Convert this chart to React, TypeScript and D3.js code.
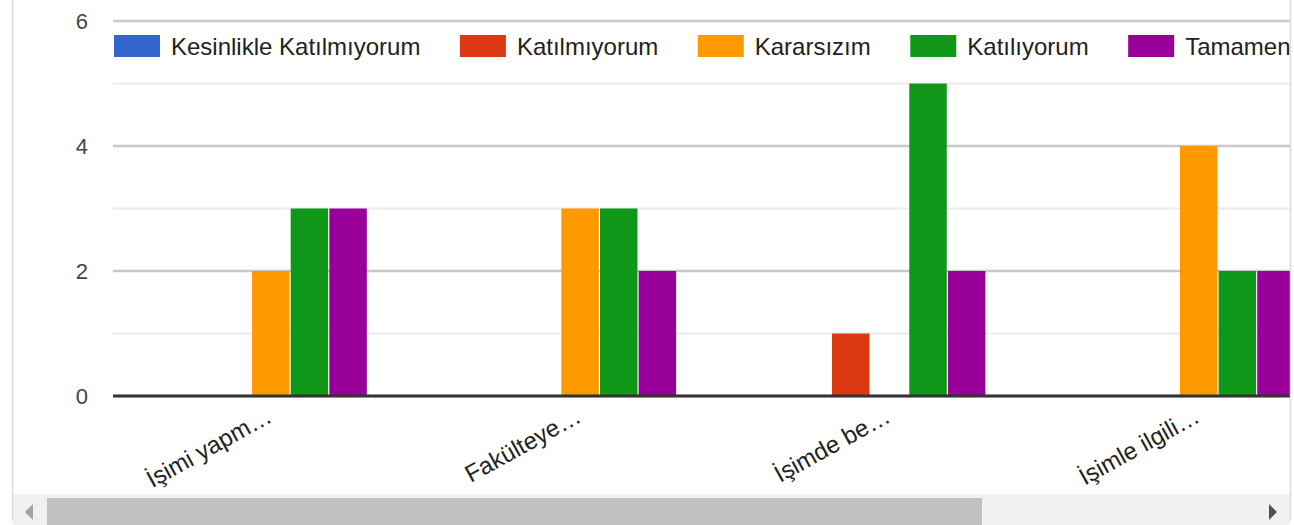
import React from 'react'
import * as d3 from 'd3'

// kategoriler (kesilmiş etiketler) ve seriler
const categories = ['İşimi yapm…', 'Fakülteye…', 'İşimde be…', 'İşimle ilgili…']
const seriesNames = [
  'Kesinlikle Katılmıyorum',
  'Katılmıyorum',
  'Kararsızım',
  'Katılıyorum',
  'Tamamen Katılıyorum'
]
const seriesColors = ['#3366cc', '#dc3912', '#ff9900', '#109618', '#990099']
const kesinlikleKatilmiyorum = [0, 0, 0, 0]
const katilmiyorum = [0, 0, 1, 0]
const kararsizim = [2, 3, 0, 4]
const katiliyorum = [3, 3, 5, 2]
const tamamenKatiliyorum = [3, 2, 2, 2]
const seriesValues = [
  kesinlikleKatilmiyorum,
  katilmiyorum,
  kararsizim,
  katiliyorum,
  tamamenKatiliyorum
]
const yTicks = [0, 2, 4, 6]
const yMinor = [1, 3, 5]

const W = 1294
const H = 525
const FONT = "Arial, 'Liberation Sans', sans-serif"

function measure(text: string, size: number) {
  const c = document.createElement('canvas')
  const ctx = c.getContext('2d')!
  ctx.font = `${size}px ${FONT}`
  return ctx.measureText(text).width
}

export default function App() {
  const left = 113
  const right = 1290
  const step = 309.3
  const x0 = d3
    .scaleBand()
    .domain(categories)
    .range([115.8, 115.8 + step * categories.length])
    .padding(0)
  const x1 = d3
    .scaleBand()
    .domain(seriesNames)
    .range([59, 59 + 192])
    .paddingInner(0.03)
  const y = d3.scaleLinear().domain([0, 6]).range([396, 21])

  // lejant
  let lx = 114
  const legend = seriesNames.map((name, i) => {
    const item = { name, color: seriesColors[i], x: lx }
    lx += 46 + 11 + measure(name, 24) + 39.5
    return item
  })

  return (
    <svg
      width={W}
      height={H}
      style={{ position: 'absolute', left: 0, top: 0, background: '#fff' }}
      fontFamily={FONT}
    >
      <defs>
        <clipPath id="view">
          <rect x={13} y={0} width={right - 13} height={494} />
        </clipPath>
      </defs>
      <g clipPath="url(#view)">
        {yMinor.map((t) => (
          <line key={'m' + t} x1={left} x2={right} y1={y(t)} y2={y(t)} stroke="#ebebeb" strokeWidth={2} />
        ))}
        {yTicks.map((t) => (
          <line key={'g' + t} x1={left} x2={right} y1={y(t)} y2={y(t)} stroke="#c8c8c8" strokeWidth={2.5} />
        ))}
        {yTicks.map((t) => (
          <text key={'t' + t} x={88} y={y(t)} dy="0.38em" textAnchor="end" fontSize={22} fill="#444">
            {t}
          </text>
        ))}
        {categories.map((c, ci) => (
          <g key={c} transform={`translate(${x0(c)},0)`}>
            {seriesNames.map((s, si) => {
              const v = seriesValues[si][ci]
              if (!v) return null
              return (
                <rect
                  key={s}
                  x={x1(s)}
                  y={y(v)}
                  width={x1.bandwidth()}
                  height={y(0) - y(v)}
                  fill={seriesColors[si]}
                />
              )
            })}
          </g>
        ))}
        <line x1={left} x2={right} y1={y(0)} y2={y(0)} stroke="#333" strokeWidth={3} />
        {categories.map((c) => (
          <text
            key={'l' + c}
            transform={`translate(${x0(c)! + x0.bandwidth() / 2 + 3},421) rotate(-29)`}
            textAnchor="end"
            fontSize={24}
            fill="#222"
          >
            {c}
          </text>
        ))}
        {legend.map((l) => (
          <g key={l.name}>
            <rect x={l.x} y={35} width={46} height={22} fill={l.color} />
            <text x={l.x + 57} y={55} fontSize={24} fill="#222">
              {l.name}
            </text>
          </g>
        ))}
      </g>
      {/* kaydırma çubuğu */}
      <rect x={13} y={494} width={right - 13} height={31} fill="#f1f1f1" />
      <rect x={47} y={498} width={935} height={27} fill="#c1c1c1" />
      <path d="M25,512 L33,504 L33,520 Z" fill="#a3a3a3" />
      <path d="M1277,512 L1269,504 L1269,520 Z" fill="#505050" />
      <line x1={12.5} x2={12.5} y1={0} y2={521} stroke="#dadce0" strokeWidth={1.5} />
      <line x1={1290.5} x2={1290.5} y1={0} y2={521} stroke="#dadce0" strokeWidth={1.5} />
    </svg>
  )
}
